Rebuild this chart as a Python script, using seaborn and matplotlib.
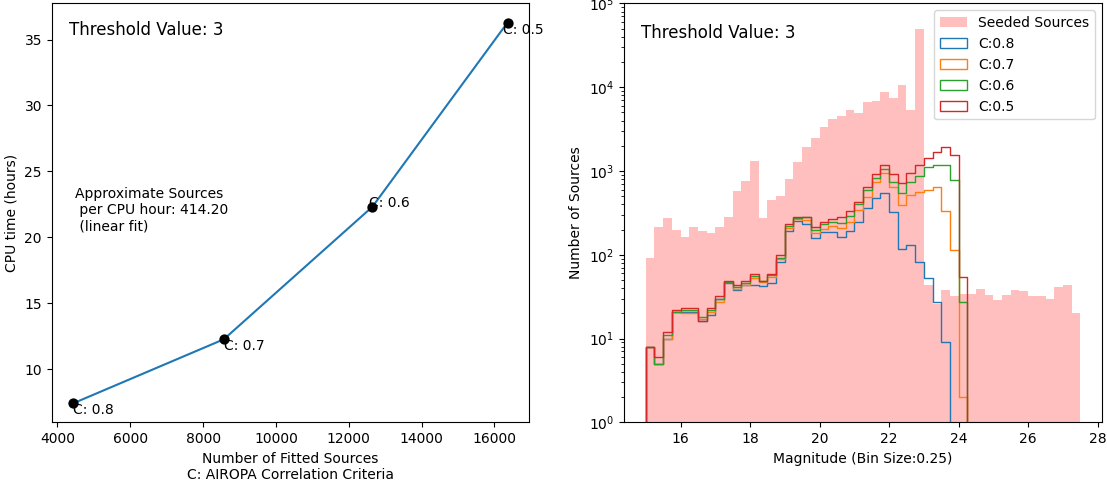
import numpy as np
import pandas as pd
import matplotlib
matplotlib.use("Agg")
import matplotlib.pyplot as plt
from matplotlib.patches import Patch
import seaborn as sns

# ==================================================
# DATA
# ==================================================
# left panel: CPU time vs number of fitted sources
criteria_labels = ["C: 0.8", "C: 0.7", "C: 0.6", "C: 0.5"]
n_fitted = [4440, 8570, 12650, 16360]
cpu_hours = [7.42, 12.27, 22.32, 36.29]
threshold = 3
sources_per_hour = 414.20

# right panel: magnitude histograms, bins 15.0 -> 27.5, width 0.25
bin_size = 0.25
mag_min, mag_max = 15.0, 27.5

seeded = [92, 214, 274, 197, 162, 214, 193, 181, 214, 281,
          575, 757, 1312, 274, 449, 501, 800, 1277, 1946, 2494,
          3350, 4170, 4530, 5340, 4920, 6660, 6850, 8770, 7430, 10600,
          5340, 49600, 43, 26, 38, 32, 34, 34, 39, 33,
          29, 33, 38, 37, 32, 32, 30, 41, 43, 20]

fit_c08 = [8, 5, 10, 21, 21, 21, 16, 19, 30, 46,
           38, 43, 44, 42, 46, 83, 193, 252, 230, 157,
           185, 185, 161, 190, 245, 360, 474, 540, 323, 116,
           129, 81, 53, 27, 9, 0, 0, 0, 0, 0,
           0, 0, 0, 0, 0, 0, 0, 0, 0, 0]
fit_c07 = [8, 5, 10, 21, 20, 20, 17, 21, 27, 47,
           39, 44, 53, 47, 54, 89, 208, 266, 259, 181,
           201, 218, 206, 245, 338, 484, 736, 935, 637, 392,
           515, 555, 597, 637, 329, 113, 2, 0, 0, 0,
           0, 0, 0, 0, 0, 0, 0, 0, 0, 0]
fit_c06 = [8, 5, 11, 21, 22, 22, 18, 22, 30, 47,
           41, 46, 56, 48, 58, 92, 221, 274, 280, 197,
           232, 243, 239, 287, 402, 591, 815, 1045, 743, 545,
           731, 861, 1124, 1186, 1186, 772, 27, 0, 0, 0,
           0, 0, 0, 0, 0, 0, 0, 0, 0, 0]
fit_c05 = [8, 6, 12, 22, 23, 23, 16, 23, 32, 48,
           43, 48, 59, 49, 59, 98, 230, 284, 284, 214,
           243, 268, 284, 329, 425, 637, 918, 1167, 918, 717,
           935, 1186, 1416, 1698, 1946, 1549, 54, 0, 0, 0,
           0, 0, 0, 0, 0, 0, 0, 0, 0, 0]

fit_labels = ["C:0.8", "C:0.7", "C:0.6", "C:0.5"]
fit_counts = [fit_c08, fit_c07, fit_c06, fit_c05]
fit_colors = ["#1f77b4", "#ff7f0e", "#2ca02c", "#d62728"]

# ==================================================
# FIGURE
# ==================================================
fig = plt.figure(figsize=(11.07, 4.82), dpi=100)
ax1 = fig.add_axes([0.0467, 0.1239, 0.4314, 0.8689])
ax2 = fig.add_axes([0.5637, 0.1239, 0.4318, 0.8689])

# ---------- left panel ----------
cpu_df = pd.DataFrame({"n": n_fitted, "hours": cpu_hours, "C": criteria_labels})
sns.lineplot(data=cpu_df, x="n", y="hours", color="#1f77b4", linewidth=1.5, ax=ax1)
sns.scatterplot(data=cpu_df, x="n", y="hours", color="black", s=55,
                linewidth=0, zorder=3, ax=ax1)

label_offsets = [(0, 0), (0, 0), (-2.5, 0), (-3, 0)]
label_va = ["top", "top", "baseline", "top"]
for row, off, va in zip(cpu_df.itertuples(), label_offsets, label_va):
    ax1.annotate(row.C, (row.n, row.hours), xytext=off,
                 textcoords="offset points", ha="left", va=va, fontsize=10)

ax1.text(0.036, 0.957, f"Threshold Value: {threshold}", transform=ax1.transAxes,
         fontsize=12, va="top", ha="left")
ax1.text(0.048, 0.562,
         f"Approximate Sources\n per CPU hour: {sources_per_hour:.2f}\n (linear fit)",
         transform=ax1.transAxes, fontsize=10, va="top", ha="left")
ax1.set_xlabel("Number of Fitted Sources\nC: AIROPA Correlation Criteria")
ax1.set_ylabel("CPU time (hours)")

# ---------- right panel ----------
edges = np.arange(mag_min, mag_max + bin_size / 2, bin_size)
centers = edges[:-1] + bin_size / 2
hist_df = pd.DataFrame({"mag": centers, "seeded": seeded})
for lab, counts in zip(fit_labels, fit_counts):
    hist_df[lab] = counts

sns.histplot(data=hist_df, x="mag", weights="seeded", binwidth=bin_size,
             binrange=(mag_min, mag_max), color="red", alpha=0.25,
             linewidth=0, ax=ax2)
# one empty bin in front so the outline rises from the baseline at 15.0
for lab, color in zip(fit_labels, fit_colors):
    sns.histplot(data=hist_df, x="mag", weights=lab, binwidth=bin_size,
                 binrange=(mag_min - bin_size, mag_max), element="step",
                 fill=False, color=color, linewidth=1.0, ax=ax2)

ax2.set_yscale("log")
ax2.set_ylim(1, 1e5)
ax2.set_xlim(mag_min - 0.05 * (mag_max - mag_min), mag_max + 0.05 * (mag_max - mag_min))
ax2.text(0.036, 0.951, f"Threshold Value: {threshold}", transform=ax2.transAxes,
         fontsize=12, va="top", ha="left")
ax2.set_xlabel(f"Magnitude (Bin Size:{bin_size})")
ax2.set_ylabel("Number of Sources")

handles = [Patch(facecolor="red", alpha=0.25, linewidth=0, label="Seeded Sources")]
handles += [Patch(facecolor="none", edgecolor=c, label=l)
            for c, l in zip(fit_colors, fit_labels)]
ax2.legend(handles=handles, loc="upper right", fontsize=10)

fig.savefig("out.png", dpi=100)
